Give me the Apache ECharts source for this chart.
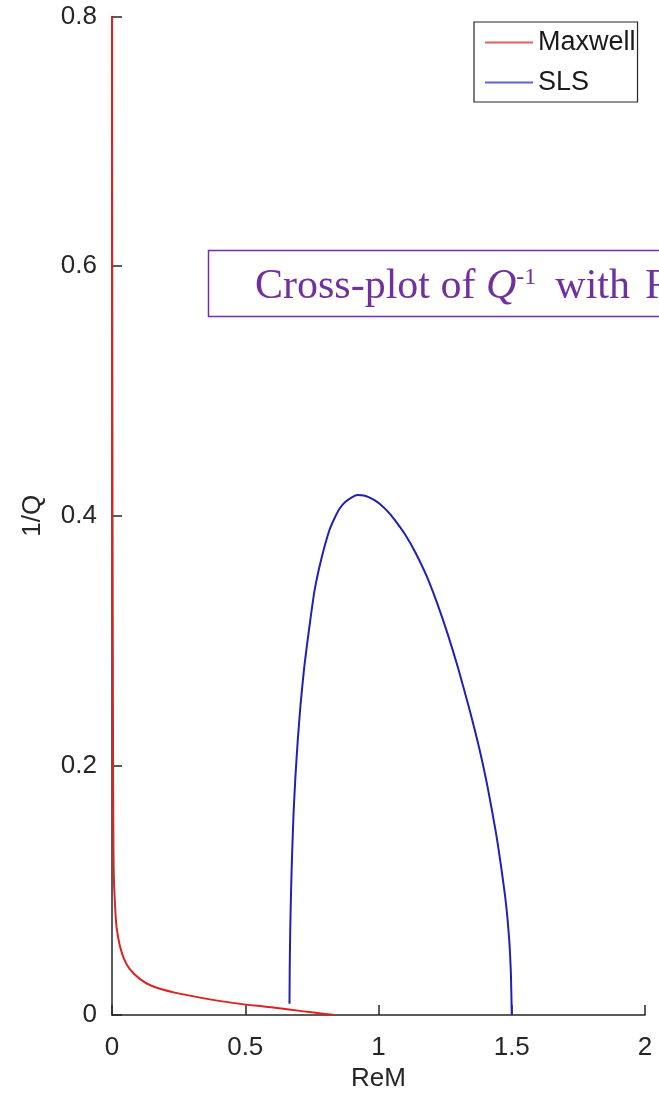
<!DOCTYPE html>
<html>
<head>
<meta charset="utf-8">
<title>Cross-plot of 1/Q with ReM</title>
<script src="https://cdn.jsdelivr.net/npm/echarts@6/dist/echarts.min.js"></script>
<style>
  html, body { margin: 0; padding: 0; background: #fff; }
  #chart { width: 659px; height: 1097px; }
</style>
</head>
<body>
<div id="chart"></div>
<script>
// 读出来的数据 (ReM, 1/Q)
var seriesNames = ['Maxwell', 'SLS'];

var maxwellData = [
  [0.0005, 0.8], [0.001, 0.6], [0.002, 0.4], [0.003, 0.3], [0.004, 0.2],
  [0.005, 0.15], [0.007, 0.11], [0.013, 0.082], [0.018, 0.069], [0.029, 0.056],
  [0.045, 0.045], [0.066, 0.037], [0.104, 0.029], [0.148, 0.0235], [0.235, 0.018],
  [0.347, 0.0134], [0.46, 0.0096], [0.597, 0.0062], [0.672, 0.0042], [0.75, 0.0022],
  [0.83, 0.0003]
];

var slsData = [
  [0.666, 0.009], [0.667, 0.04], [0.669, 0.07], [0.672, 0.10], [0.676, 0.13],
  [0.681, 0.16], [0.688, 0.19], [0.697, 0.22], [0.708, 0.25], [0.722, 0.28],
  [0.740, 0.31], [0.760, 0.34], [0.785, 0.365], [0.815, 0.388], [0.835, 0.398],
  [0.855, 0.406], [0.875, 0.411], [0.90, 0.4148], [0.922, 0.4166], [0.945, 0.4162],
  [0.965, 0.4148], [0.985, 0.4125], [1.005, 0.4095], [1.03, 0.4045], [1.06, 0.397],
  [1.10, 0.385], [1.14, 0.370], [1.18, 0.352], [1.22, 0.330], [1.26, 0.305],
  [1.30, 0.277], [1.34, 0.246], [1.38, 0.212], [1.41, 0.182], [1.44, 0.147],
  [1.46, 0.119], [1.478, 0.090], [1.49, 0.062], [1.497, 0.032], [1.5, 0.0]
];

var xTicks = [0, 0.5, 1, 1.5, 2];
var yTicks = [0, 0.2, 0.4, 0.6, 0.8];

var axisColor = '#262626';
var sans = '"Liberation Sans", Arial, sans-serif';
var serif = '"Liberation Serif", "Times New Roman", serif';

var myChart = echarts.init(document.getElementById('chart'));

var option = {
  backgroundColor: '#fff',
  animation: false,
  grid: {
    left: 112,
    right: 14,
    top: 16.5,
    bottom: 80.5
  },
  legend: {
    orient: 'vertical',
    left: 474,
    top: 22,
    padding: [7, 2, 6, 11],
    itemGap: 13,
    itemWidth: 48,
    itemHeight: 2,
    icon: 'rect',
    borderColor: axisColor,
    borderWidth: 1.2,
    backgroundColor: '#fff',
    textStyle: {
      fontSize: 27,
      fontFamily: sans,
      color: '#1a1a1a'
    },
    data: [
      { name: seriesNames[0], itemStyle: { color: '#e06060' } },
      { name: seriesNames[1], itemStyle: { color: '#6060e0' } }
    ]
  },
  xAxis: {
    type: 'value',
    min: xTicks[0],
    max: xTicks[xTicks.length - 1],
    interval: 0.5,
    name: 'ReM',
    nameLocation: 'middle',
    nameGap: 48,
    nameTextStyle: { fontSize: 26, fontFamily: sans, color: axisColor },
    axisLine: { show: true, onZero: false, lineStyle: { color: axisColor, width: 1.5 } },
    axisTick: { show: true, inside: true, length: 10, lineStyle: { color: axisColor, width: 1.5 } },
    axisLabel: {
      margin: 20,
      fontSize: 26,
      fontFamily: sans,
      color: axisColor,
      formatter: function (v) { return String(v); }
    },
    splitLine: { show: false }
  },
  yAxis: {
    type: 'value',
    min: yTicks[0],
    max: yTicks[yTicks.length - 1],
    interval: 0.2,
    name: '1/Q',
    nameLocation: 'middle',
    nameGap: 66,
    nameRotate: 90,
    nameTextStyle: { fontSize: 26, fontFamily: sans, color: axisColor },
    axisLine: { show: true, onZero: false, lineStyle: { color: axisColor, width: 1.5 } },
    axisTick: { show: true, inside: true, length: 10, lineStyle: { color: axisColor, width: 1.5 } },
    axisLabel: {
      margin: 15,
      fontSize: 26,
      fontFamily: sans,
      color: axisColor,
      formatter: function (v) { return String(Math.round(v * 10) / 10); }
    },
    splitLine: { show: false }
  },
  series: [
    {
      name: seriesNames[0],
      type: 'line',
      data: maxwellData,
      symbol: 'none',
      smooth: 0.3,
      lineStyle: { color: '#dd2222', width: 2 },
      itemStyle: { color: '#dd2222' },
      z: 3
    },
    {
      name: seriesNames[1],
      type: 'line',
      data: slsData,
      symbol: 'none',
      smooth: 0.2,
      lineStyle: { color: '#2020b8', width: 2 },
      itemStyle: { color: '#2020b8' },
      z: 3
    }
  ],
  graphic: [
    {
      type: 'rect',
      z: 100,
      shape: { x: 208.5, y: 250.5, width: 600, height: 66 },
      style: { fill: '#fff', stroke: '#7030a0', lineWidth: 1.5 }
    },
    {
      type: 'text',
      z: 101,
      x: 255,
      y: 287,
      style: {
        text: 'Cross-plot of {q|Q}{s|-1}{w|with}{r|ReM}',
        fontSize: 42,
        lineHeight: 42,
        fontFamily: serif,
        fill: '#7030a0',
        verticalAlign: 'middle',
        rich: {
          q: { fontSize: 42, lineHeight: 42, fontStyle: 'italic', fontFamily: serif, fill: '#7030a0' },
          s: { fontSize: 24, lineHeight: 34, verticalAlign: 'top', fontFamily: serif, fill: '#7030a0' },
          w: { fontSize: 42, lineHeight: 42, padding: [0, 0, 0, 19], fontFamily: serif, fill: '#7030a0' },
          r: { fontSize: 42, lineHeight: 42, padding: [0, 0, 0, 15], fontFamily: serif, fill: '#7030a0' }
        }
      }
    }
  ]
};

myChart.setOption(option);
</script>
</body>
</html>
